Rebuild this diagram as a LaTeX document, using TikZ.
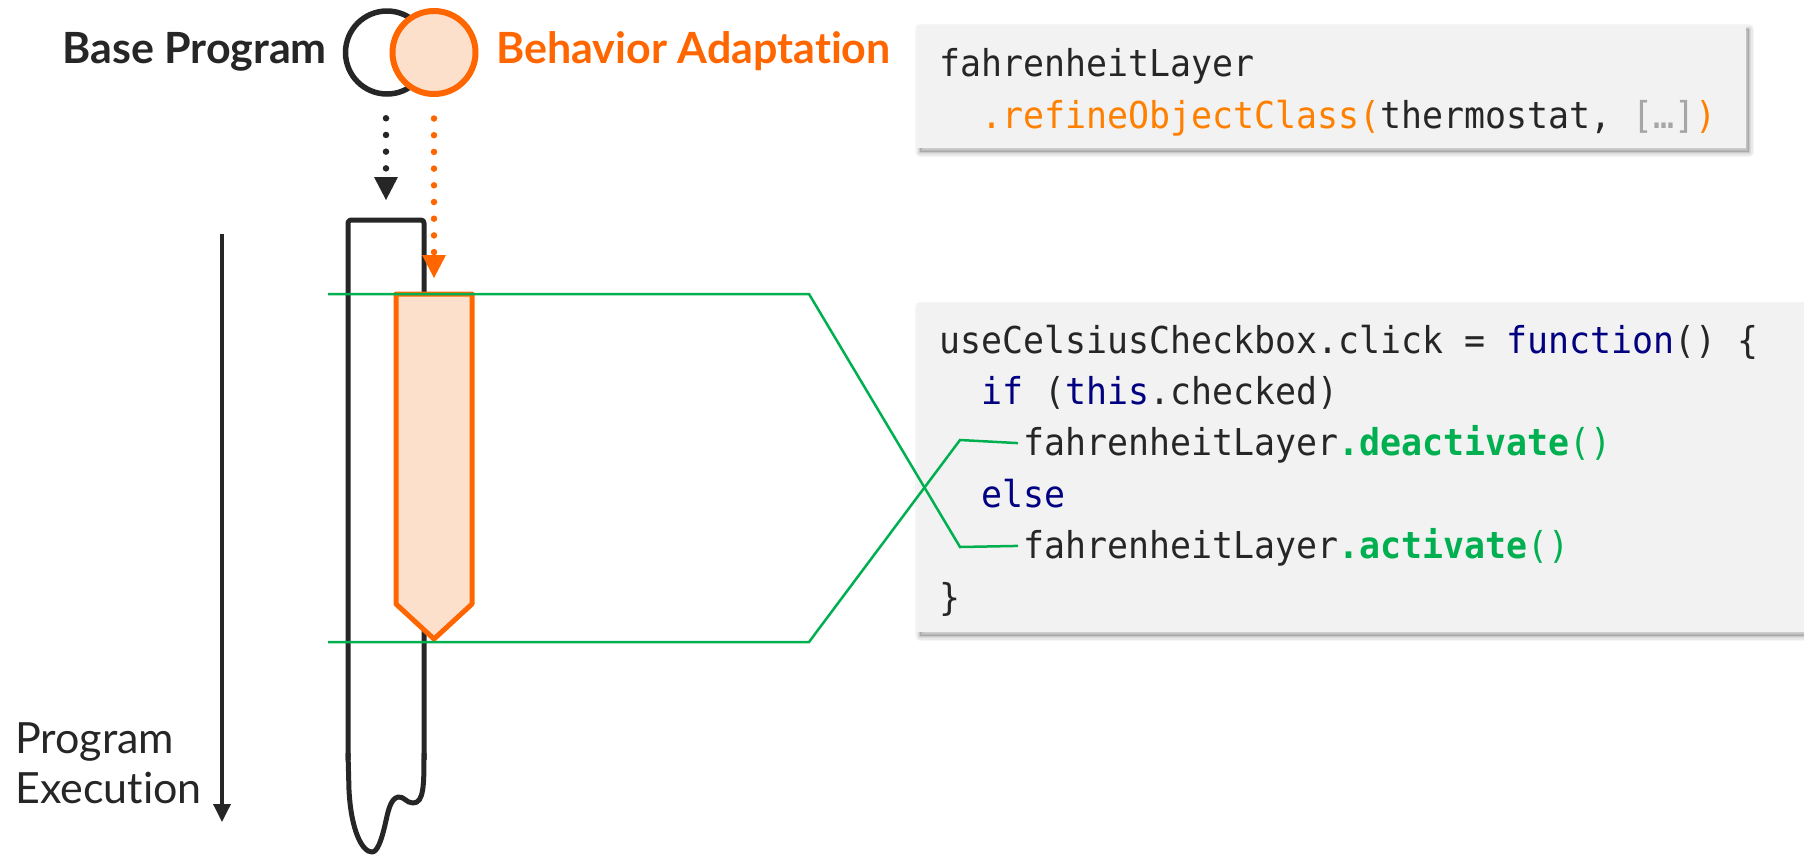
\documentclass[tikz,border=0pt]{standalone}
\usepackage{fontspec}
\setmainfont{Lato}[Ligatures=NoCommon]
\newfontfamily\codefont[FakeStretch=0.943]{DejaVu Sans Mono}
\usetikzlibrary{arrows.meta,calc}

\definecolor{ink}{HTML}{262626}
\definecolor{adapt}{HTML}{FF6600}
\definecolor{adaptfill}{HTML}{FDE0CC}
\definecolor{codeorange}{HTML}{FF8000}
\definecolor{layergreen}{HTML}{00B050}
\definecolor{keyword}{HTML}{000080}
\definecolor{elided}{HTML}{A6A6A6}
\definecolor{boxgray}{HTML}{F2F2F2}

% code colouring helpers
\newcommand\kwd[1]{\textcolor{keyword}{#1}}
\newcommand\grn[1]{\textcolor{layergreen}{#1}}
\newcommand\org[1]{\textcolor{codeorange}{#1}}
\newcommand\gry[1]{\textcolor{elided}{#1}}
\newcommand\spc{\phantom{x}}

% soft shadow under a code box: x1 y1 x2 y2
\newcommand\boxshadow[4]{%
  \foreach \w/\o in {10/0.04,7/0.05,4/0.06,1.5/0.08}{%
    \draw[line width=\w pt, draw=black, draw opacity=\o, line join=round]
      (#1+3,#2+4) rectangle (#3+3,#4+4);}
  \fill[black, fill opacity=0.16] (#1+3,#2+4) rectangle (#3+3,#4+4);
}

\begin{document}
\begin{tikzpicture}[x=1pt,y=-1pt,
  label/.style={inner sep=0pt, anchor=base west, text=ink, font=\fontsize{43}{50}\selectfont},
  code/.style={inner sep=0pt, anchor=base west, text=ink, font=\codefont\fontsize{37}{44}\selectfont},
  tube/.style={draw=ink, line width=5pt, line join=round},
  region/.style={draw=adapt, fill=adaptfill, line width=5pt, line join=round},
  dots/.style={line width=6.5pt, line cap=round, dash pattern=on 0pt off 16.7pt},
  link/.style={draw=layergreen, line width=2.5pt},
  codebox/.style={fill=boxgray}]

\useasboundingbox (0,0) rectangle (1804,855);
\clip (0,0) rectangle (1804,855);

% ---- legend: base program and behaviour adaptation
\node[label, font=\bfseries\fontsize{43}{50}\selectfont] (bplabel) at (62,63) {Base Program};
\node[circle, draw=ink, line width=5.5pt, minimum size=83pt, inner sep=0pt] (base) at (387,52.5) {};
\node[circle, draw=adapt, fill=adaptfill, line width=6pt, minimum size=83pt, inner sep=0pt] (adapt) at (434,52.5) {};
\node[label, text=adapt, font=\bfseries\fontsize{43}{50}\selectfont] (balabel) at (496,63) {Behavior Adaptation};

% ---- program execution axis
\coordinate (exectop) at (222,234);
\coordinate (execend) at (222,822);
\draw[ink, line width=3.5pt, -{Triangle[width=17pt,length=18pt]}] (exectop) -- (execend);
\node[label] (exec1) at (15,753) {Program};
\node[label] (exec2) at (15,803) {Execution};

% ---- base program tube
\coordinate (tubetop) at (386,220);
\draw[tube, rounded corners=3pt] (348,760) -- (348,220) -- (424,220) -- (424,760);
\draw[tube] (424,753)
  .. controls (424,785) and (424,803) .. (413,803)
  .. controls (406,803) and (404,796) .. (398,797)
  .. controls (390,799) and (388,812) .. (385,825)
  .. controls (381,842) and (377,852) .. (372,852)
  .. controls (362,852) and (351,830) .. (349,790)
  -- (348,753);

% ---- adapted region
\draw[region] (396,294) -- (472,294) -- (472,604) -- (434,639) -- (396,604) -- cycle;
\coordinate (regiontop) at (434,278);

% ---- dotted arrows from the legend
\coordinate (bpstart) at ($(base.south)+(-1,21.5)$);
\coordinate (bpend) at (386,200);
\draw[ink, dots, -{Triangle[width=24pt,length=23pt,line width=0pt]}] (bpstart) -- (bpend);
\coordinate (bastart) at ($(adapt.south)+(0,21.5)$);
\draw[adapt, dots, -{Triangle[width=24pt,length=23pt,line width=0pt]}] (bastart) -- (regiontop);

% ---- code boxes
\boxshadow{917}{25}{1746}{148}
\path[codebox] (917,25) rectangle (1746,148);
\node[code] (c1a) at (939,76) {fahrenheitLayer};
\node[code] (c1b) at (939,128) {\spc\spc\org{.refineObjectClass(}thermostat,\spc\gry{[…]}\org{)}};

\boxshadow{917}{303}{1830}{632}
\path[codebox] (917,303) rectangle (1830,632);
\node[code] (l1) at (939,353) {useCelsiusCheckbox.click\spc=\spc\kwd{function}()\spc\{};
\node[code] (l2) at (939,404.4) {\spc\spc\kwd{if}\spc(\kwd{this}.checked)};
\node[code] (deact) at (1023,455.8) {fahrenheitLayer\grn{\textbf{.deactivate}()}};
\node[code] (l4) at (939,507.2) {\spc\spc\kwd{else}};
\node[code] (act) at (1023,558.6) {fahrenheitLayer\grn{\textbf{.activate}()}};
\node[code] (l6) at (939,610) {\}};

% ---- links from the region bounds to the layer (de)activation
\coordinate (startin) at (328,294);
\coordinate (startout) at (328,642);
\draw[link] (startin) -- (809,294) -- (960,547) -- ($(act.west)+(-5,-1.5)$);
\draw[link] (startout) -- (809,642) -- (960,440) -- ($(deact.west)+(-5,-1.5)$);

\end{tikzpicture}
\end{document}
